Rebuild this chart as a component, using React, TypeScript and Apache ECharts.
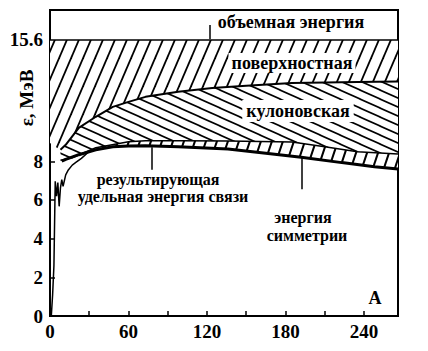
import React, { useEffect, useRef } from "react";
import * as echarts from "echarts";

// Axis ticks and labels
const X_TICKS = [0, 30, 60, 90, 120, 150, 180, 210, 240];
const X_LABELS = [0, 60, 120, 180, 240];
const Y_TICKS = [0, 2, 4, 6, 8, 10, 12];
const Y_LABELS = [0, 2, 4, 6, 8];
// The upper part of the original axis is schematic: the 15.6 MeV line is drawn at this height
const BULK_LEVEL = 14.27;
const BULK_LABEL = "15.6";

// Volume (bulk) energy line
const BULK_A = [0, 266];
const BULK = [BULK_LEVEL, BULK_LEVEL];

// Lower edge of the surface-energy band
const SURF_A = [0, 4, 8, 12, 22, 35, 48, 60, 73, 98, 124, 150, 185, 235, 266];
const SURF = [8.95, 8.75, 8.6, 8.85, 9.73, 10.3, 10.81, 11.07, 11.33, 11.59, 11.79, 11.9, 12.05, 12.1, 12.12];

// Lower edge of the Coulomb band
const COUL_A = [8, 17, 35, 60, 73, 100, 136, 185, 210, 235, 266];
const COUL = [8.05, 8.18, 8.7, 9.01, 9.06, 9.06, 9.05, 9.0, 8.75, 8.49, 8.38];

// Resulting binding energy per nucleon (smooth curve)
const RES_A = [9, 12, 22, 35, 48, 60, 73, 98, 136, 165, 192, 223, 248, 266];
const RES = [8.0, 8.1, 8.34, 8.59, 8.75, 8.79, 8.8, 8.75, 8.63, 8.42, 8.21, 7.93, 7.72, 7.6];

// Experimental points for light nuclei (jagged part)
const EXP_A = [1, 2, 3, 4, 5, 6, 7, 8, 9, 10, 12, 14, 17, 20, 24, 29];
const EXP = [0, 1.1, 2.6, 6.96, 6.2, 6.9, 5.67, 6.63, 7.05, 6.7, 7.3, 7.55, 7.8, 7.95, 8.15, 8.45];

// Arrows: [A, from, to]
const ARROWS = [
  [122, 15.05, 14.32],
  [78, 7.56, 8.72],
  [192.5, 6.55, 8.2],
];

const zip = (xs: number[], ys: number[]) => xs.map((x, i) => [x, ys[i]]);

function hatch(w: number, h: number, dir: "up" | "down", lw: number) {
  const c = document.createElement("canvas");
  c.width = w;
  c.height = h;
  const ctx = c.getContext("2d")!;
  ctx.fillStyle = "#fff";
  ctx.fillRect(0, 0, w, h);
  ctx.strokeStyle = "#000";
  ctx.lineWidth = lw;
  for (let k = -1; k <= 1; k++) {
    ctx.beginPath();
    if (dir === "up") {
      ctx.moveTo(k * w - w, 2 * h);
      ctx.lineTo(k * w + 2 * w, -h);
    } else {
      ctx.moveTo(k * w - w, -h);
      ctx.lineTo(k * w + 2 * w, 2 * h);
    }
    ctx.stroke();
  }
  return { image: c, repeat: "repeat", imageWidth: w, imageHeight: h };
}

const FONT = "Liberation Serif";

export default function App() {
  const ref = useRef<HTMLDivElement>(null);
  useEffect(() => {
    if (!ref.current) return;
    const chart = echarts.init(ref.current, null, { renderer: "svg" });

    const surfPts = zip(BULK_A, BULK).concat(zip(SURF_A, SURF).reverse());
    const surfEdge = zip(SURF_A, SURF).filter((p) => p[0] >= 8);
    const coulPts = surfEdge.concat(zip(COUL_A, COUL).reverse());
    const symPts = zip(COUL_A, COUL).concat(zip(RES_A, RES).reverse());

    const poly = (name: string, pts: number[][], fill: any) => ({
      type: "custom",
      name,
      coordinateSystem: "cartesian2d",
      clip: true,
      silent: true,
      z: 1,
      data: [pts[0]],
      renderItem: (_p: any, api: any) => ({
        type: "polygon",
        shape: { points: pts.map((p) => api.coord(p)) },
        style: { fill, stroke: "none" },
      }),
    });

    const line = (name: string, data: number[][], width: number, extra: any = {}) => ({
      type: "line",
      name,
      data,
      showSymbol: false,
      symbol: "none",
      silent: true,
      z: 3,
      lineStyle: { color: "#000", width },
      ...extra,
    });

    const tickFont = { fontFamily: FONT, fontWeight: "bold", fontSize: 19, color: "#000" };
    const txt = (text: string, x: number, y: number, size: number, bg = false, pad: any = 2) => ({
      type: "text",
      x,
      y,
      z: 100,
      style: {
        text,
        fill: "#000",
        fontFamily: FONT,
        fontWeight: "bold",
        fontSize: size,
        align: "center",
        verticalAlign: "middle",
        backgroundColor: bg ? "#fff" : undefined,
        padding: bg ? pad : 0,
      },
    });

    chart.setOption({
      animation: false,
      backgroundColor: "#fff",
      textStyle: { fontFamily: FONT },
      grid: {
        left: 50,
        right: 30,
        top: 10,
        bottom: 35,
        show: true,
        borderColor: "#000",
        borderWidth: 2,
        outerBoundsMode: "none",
      },
      xAxis: {
        type: "value",
        min: 0,
        max: 266,
        splitLine: { show: false },
        axisLine: { onZero: false, lineStyle: { color: "#000", width: 2 } },
        axisTick: { inside: true, length: 5, customValues: X_TICKS, lineStyle: { color: "#000", width: 1.5 } },
        axisLabel: { customValues: X_LABELS, margin: 6, ...tickFont },
      },
      yAxis: {
        type: "value",
        min: 0,
        max: 15.82,
        splitLine: { show: false },
        axisLine: { onZero: false, lineStyle: { color: "#000", width: 2 } },
        axisTick: { inside: true, length: 5, customValues: Y_TICKS, lineStyle: { color: "#000", width: 1.5 } },
        axisLabel: {
          customValues: [...Y_LABELS, BULK_LEVEL],
          margin: 7,
          formatter: (v: number) => (Math.abs(v - BULK_LEVEL) < 1e-6 ? BULK_LABEL : String(v)),
          ...tickFont,
        },
      },
      series: [
        poly("поверхностная", surfPts, hatch(12, 28, "up", 1.8)),
        poly("кулоновская", coulPts, hatch(20, 9, "down", 1.6)),
        poly("симметрии", symPts, hatch(11, 33, "up", 2)),
        line("объемная", zip(BULK_A, BULK), 1.5),
        line("поверхность", surfEdge, 2),
        line("кулон", zip(COUL_A, COUL), 1.5),
        line("результирующая", zip(RES_A, RES), 3, {
          markLine: {
            silent: true,
            symbol: ["none", "arrow"],
            symbolSize: [0, 8],
            label: { show: false },
            lineStyle: { color: "#000", width: 1.5, type: "solid" },
            data: ARROWS.map(([a, y0, y1]) => [{ coord: [a, y0] }, { coord: [a, y1] }]),
          },
        }),
        line("эксперимент", zip(EXP_A, EXP), 1.5),
      ],
      graphic: [
        txt("объемная энергия", 291, 22, 18),
        txt("поверхностная", 292, 63, 18, true, [1, 3]),
        txt("кулоновская", 298, 111, 18, true, [2, 4]),
        txt("результирующая", 158, 179, 16),
        txt("удельная энергия связи", 163, 196, 16),
        txt("энергия", 303, 217, 16),
        txt("симметрии", 307, 235, 16),
        txt("A", 375, 298, 18),
        {
          type: "text",
          x: 26,
          y: 98,
          rotation: Math.PI / 2,
          z: 100,
          style: {
            text: "ε, МэВ",
            fill: "#000",
            fontFamily: FONT,
            fontWeight: "bold",
            fontSize: 19,
            align: "center",
            verticalAlign: "middle",
          },
        },
      ],
    });
    return () => chart.dispose();
  }, []);
  return <div ref={ref} style={{ position: "fixed", left: 0, top: 0, width: 428, height: 351 }} />;
}
